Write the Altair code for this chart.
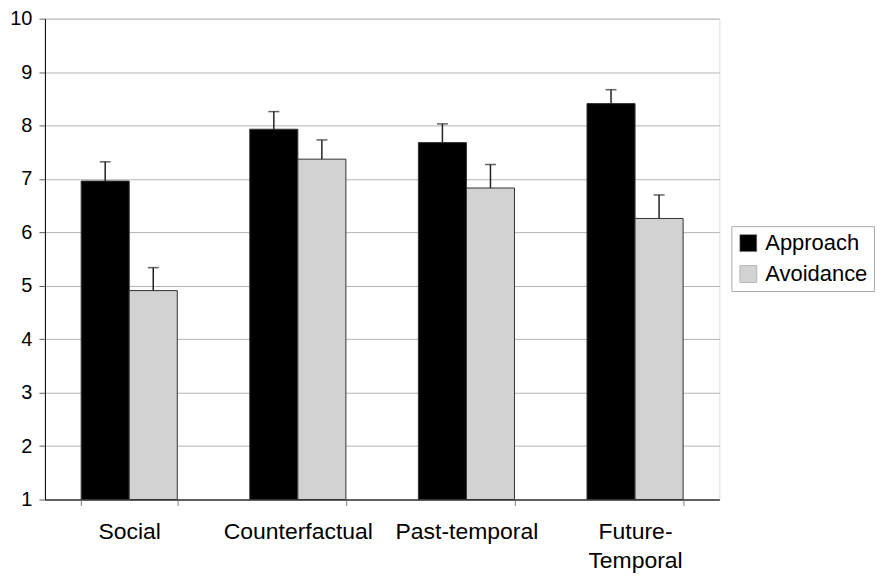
import altair as alt
import pandas as pd

categories = ["Social", "Counterfactual", "Past-temporal", "Future-Temporal"]
series = ["Approach", "Avoidance"]
approach = [6.96, 7.93, 7.68, 8.41]
approach_err = [7.32, 8.26, 8.03, 8.67]
avoidance = [4.91, 7.37, 6.83, 6.26]
avoidance_err = [5.34, 7.73, 7.27, 6.70]

rows = []
for i, c in enumerate(categories):
    rows.append({"cat": c, "series": "Approach", "val": approach[i], "hi": approach_err[i]})
    rows.append({"cat": c, "series": "Avoidance", "val": avoidance[i], "hi": avoidance_err[i]})
df = pd.DataFrame(rows)

FONT = "Liberation Sans"

x = alt.X("cat:N", sort=categories, title=None,
          scale=alt.Scale(paddingInner=0.43, paddingOuter=0.215),
          axis=alt.Axis(labelAngle=0, labelFontSize=23, labelFont=FONT, labelColor="black",
                        labelPadding=15, tickBand="extent", tickSize=6, tickColor="#808080",
                        domainColor="#606060", domainWidth=2, labelLineHeight=29,
                        labelExpr="datum.label == 'Future-Temporal' ? ['Future-', 'Temporal'] : datum.label"))
xoff = alt.XOffset("series:N", sort=series)
yscale = alt.Scale(domain=[1, 10], nice=False, zero=False)

bars = alt.Chart(df).mark_bar(stroke="#333333", strokeWidth=1).encode(
    x=x, xOffset=xoff,
    y=alt.Y("val:Q", scale=yscale, title=None,
            axis=alt.Axis(values=list(range(1, 11)), format="d", labelFontSize=20, labelFont=FONT,
                          labelColor="black", tickSize=6, tickColor="#606060",
                          domainColor="black", gridColor="#b4b4b4", labelPadding=7)),
    y2=alt.datum(1),
    color=alt.Color("series:N", sort=series,
                    scale=alt.Scale(domain=series, range=["#000000", "#d2d2d2"]),
                    legend=alt.Legend(title=None, orient="none", legendX=688, legendY=208,
                                      labelFontSize=22, labelFont=FONT, labelColor="black",
                                      symbolType="square", symbolSize=289,
                                      symbolStrokeColor="#888888", symbolStrokeWidth=0.5,
                                      strokeColor="#aaaaaa", padding=6, rowPadding=9,
                                      labelOffset=6)),
)

err = alt.Chart(df).mark_rule(color="#222222", strokeWidth=1.5).encode(
    x=x, xOffset=xoff,
    y=alt.Y("val:Q", scale=yscale),
    y2="hi:Q",
)

caps = alt.Chart(df).mark_tick(color="#222222", thickness=1.5, size=11, orient="horizontal").encode(
    x=x, xOffset=xoff,
    y=alt.Y("hi:Q", scale=yscale),
)

chart = (bars + err + caps).properties(
    width=676, height=482,
    padding={"top": 0, "left": 1, "right": 0, "bottom": 0},
).configure_view(
    stroke="black", strokeWidth=1
).configure(background="white")

chart.save("out.html", embed_options={"renderer": "svg", "actions": False})
